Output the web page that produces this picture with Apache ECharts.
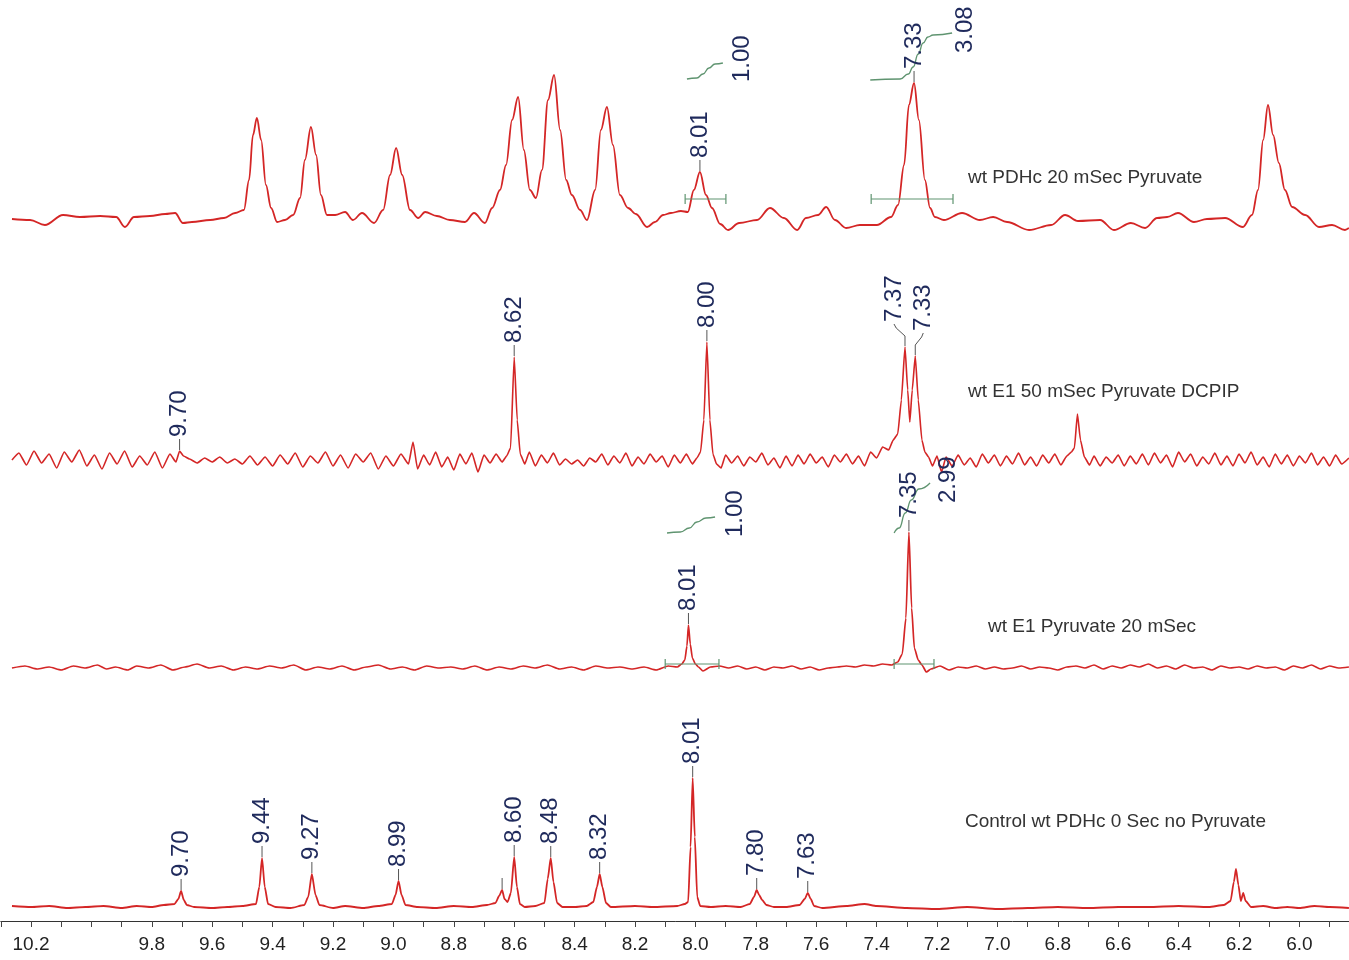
<!DOCTYPE html>
<html><head><meta charset="utf-8">
<script src="https://cdn.jsdelivr.net/npm/echarts@6/dist/echarts.min.js"></script>
<style>html,body{margin:0;padding:0;background:#fff}#c{width:1349px;height:960px}</style>
</head><body><div id="c"></div>
<script>
// ---- tick labels shown on the ppm axis ----
const tickLabels = ['10.2','9.8','9.6','9.4','9.2','9.0','8.8','8.6','8.4','8.2','8.0','7.8','7.6','7.4','7.2','7.0','6.8','6.6','6.4','6.2','6.0'];

// ---- spectrum names ----
const names = ['wt PDHc 20 mSec Pyruvate','wt E1 50 mSec Pyruvate DCPIP','wt E1 Pyruvate 20 mSec','Control wt PDHc 0 Sec no Pyruvate'];

// ---- spectrum 1: wt PDHc 20 mSec Pyruvate  [ppm, intensity] ----
const spec1 = [[10.263,1],[10.203,0],[10.154,-5],[10.094,5],[10.038,3],[9.971,4],[9.918,3],[9.889,-7],[9.859,3],[9.806,4],[9.756,6],[9.723,7],[9.697,-3],[9.667,-2],[9.607,0],[9.561,2],[9.524,7],[9.495,10],[9.478,40],[9.465,85],[9.452,102],[9.438,80],[9.422,35],[9.405,12],[9.385,-2],[9.359,0],[9.332,5],[9.309,22],[9.293,60],[9.273,93],[9.256,65],[9.240,25],[9.220,5],[9.193,5],[9.160,8],[9.134,0],[9.104,7],[9.064,-3],[9.034,10],[9.011,45],[8.991,72],[8.971,45],[8.945,10],[8.918,2],[8.895,8],[8.856,4],[8.813,0],[8.763,-2],[8.733,7],[8.697,-3],[8.673,12],[8.647,30],[8.627,55],[8.607,100],[8.587,123],[8.568,70],[8.548,30],[8.528,22],[8.508,50],[8.488,120],[8.468,145],[8.448,90],[8.428,40],[8.409,25],[8.382,10],[8.359,0],[8.332,30],[8.313,90],[8.293,113],[8.273,75],[8.250,25],[8.223,12],[8.197,6],[8.160,-7],[8.134,-2],[8.107,5],[8.081,7],[8.048,9],[8.025,8],[8.005,30],[7.985,48],[7.965,25],[7.945,12],[7.918,-4],[7.892,-10],[7.855,-3],[7.796,0],[7.753,12],[7.707,2],[7.663,-10],[7.634,2],[7.594,5],[7.567,13],[7.538,0],[7.501,-8],[7.455,-5],[7.399,-5],[7.352,3],[7.329,15],[7.309,55],[7.293,115],[7.276,137],[7.260,100],[7.240,40],[7.223,12],[7.207,3],[7.177,0],[7.117,7],[7.058,0],[7.014,3],[6.968,-2],[6.895,-10],[6.822,-5],[6.776,5],[6.733,-1],[6.660,0],[6.614,-10],[6.558,-3],[6.511,-8],[6.471,2],[6.438,3],[6.402,7],[6.349,-2],[6.306,1],[6.246,2],[6.187,-7],[6.157,5],[6.137,30],[6.120,80],[6.104,115],[6.087,85],[6.068,57],[6.048,30],[6.024,13],[5.981,5],[5.935,-7],[5.892,-5],[5.849,-10],[5.836,-8]];

// ---- spectrum 2: wt E1 50 mSec Pyruvate DCPIP ----
const spec2 = [[10.263,0],[10.240,7],[10.215,-5],[10.190,9],[10.165,-3],[10.140,6],[10.115,-8],[10.090,8],[10.065,-2],[10.040,10],[10.015,-6],[9.990,5],[9.965,-9],[9.940,7],[9.915,-4],[9.890,9],[9.865,-7],[9.840,4],[9.815,-5],[9.790,8],[9.765,-8],[9.740,6],[9.720,-2],[9.708,9],[9.695,4],[9.675,1],[9.650,-3],[9.625,2],[9.600,-2],[9.575,3],[9.550,-3],[9.525,1],[9.500,-4],[9.475,4],[9.450,-5],[9.425,3],[9.400,-6],[9.375,5],[9.350,-4],[9.325,7],[9.300,-7],[9.275,4],[9.250,-3],[9.225,8],[9.200,-6],[9.175,5],[9.150,-8],[9.125,6],[9.100,-2],[9.075,7],[9.050,-9],[9.025,4],[9.000,-6],[8.975,6],[8.950,-4],[8.935,18],[8.920,-9],[8.900,5],[8.880,-5],[8.860,8],[8.840,-7],[8.820,3],[8.800,-10],[8.780,6],[8.760,-4],[8.740,7],[8.720,-12],[8.700,5],[8.680,-3],[8.660,6],[8.640,-2],[8.625,4],[8.612,12],[8.600,103],[8.590,40],[8.580,6],[8.565,-4],[8.550,8],[8.530,-6],[8.510,5],[8.490,-3],[8.470,7],[8.450,-5],[8.430,1],[8.410,-4],[8.390,0],[8.370,-6],[8.350,2],[8.330,-2],[8.310,6],[8.290,-5],[8.270,4],[8.250,-3],[8.230,7],[8.210,-6],[8.190,3],[8.170,-4],[8.150,6],[8.130,-2],[8.110,4],[8.090,-7],[8.070,5],[8.050,-3],[8.030,6],[8.010,-4],[7.995,2],[7.983,8],[7.972,40],[7.962,118],[7.952,40],[7.942,6],[7.930,-4],[7.915,-8],[7.900,5],[7.880,-3],[7.860,4],[7.840,-6],[7.820,3],[7.800,-2],[7.780,7],[7.760,-5],[7.740,2],[7.720,-8],[7.700,4],[7.680,-6],[7.660,5],[7.640,-4],[7.620,6],[7.600,-3],[7.580,3],[7.560,-7],[7.540,5],[7.520,-2],[7.500,6],[7.480,-4],[7.460,4],[7.440,-6],[7.420,8],[7.400,2],[7.380,13],[7.360,10],[7.345,20],[7.330,26],[7.318,60],[7.306,113],[7.297,70],[7.290,38],[7.282,70],[7.272,104],[7.262,60],[7.250,20],[7.240,8],[7.228,3],[7.215,-6],[7.200,4],[7.185,-12],[7.170,3],[7.150,-6],[7.130,5],[7.110,-5],[7.090,2],[7.070,-7],[7.050,6],[7.030,-3],[7.010,5],[6.990,-6],[6.970,4],[6.950,-4],[6.930,7],[6.910,-5],[6.890,3],[6.870,-6],[6.850,5],[6.830,-3],[6.810,6],[6.790,-5],[6.770,4],[6.755,8],[6.745,12],[6.735,46],[6.725,20],[6.712,3],[6.695,-5],[6.680,4],[6.660,-6],[6.640,3],[6.620,-3],[6.600,5],[6.580,-6],[6.560,4],[6.540,-4],[6.520,6],[6.500,-5],[6.480,7],[6.460,-3],[6.440,5],[6.420,-7],[6.400,8],[6.380,-2],[6.360,6],[6.340,-6],[6.320,3],[6.300,-4],[6.280,7],[6.260,-5],[6.240,4],[6.220,-6],[6.200,6],[6.180,-3],[6.160,8],[6.140,-5],[6.120,3],[6.100,-7],[6.080,6],[6.060,-4],[6.040,5],[6.020,-6],[6.000,4],[5.980,-3],[5.960,7],[5.940,-5],[5.920,3],[5.900,-6],[5.880,5],[5.860,-4],[5.836,2]];

// ---- spectrum 3: wt E1 Pyruvate 20 mSec ----
const spec3 = [[10.263,0],[10.22,2],[10.18,-1],[10.14,1],[10.10,-2],[10.06,2],[10.02,0],[9.98,3],[9.95,-1],[9.92,1],[9.88,-2],[9.85,2],[9.81,0],[9.77,3],[9.73,-2],[9.69,1],[9.65,4],[9.61,0],[9.57,2],[9.53,-2],[9.49,1],[9.45,-1],[9.41,2],[9.37,0],[9.33,3],[9.29,-2],[9.25,1],[9.21,-1],[9.17,2],[9.13,-2],[9.09,1],[9.05,3],[9.01,-1],[8.97,1],[8.93,-2],[8.89,2],[8.85,0],[8.81,1],[8.77,-1],[8.73,2],[8.69,-2],[8.65,1],[8.61,-1],[8.57,2],[8.53,0],[8.49,3],[8.45,-1],[8.41,1],[8.37,-2],[8.33,2],[8.29,0],[8.25,1],[8.21,-1],[8.17,1],[8.13,-2],[8.09,2],[8.06,1],[8.045,4],[8.035,8],[8.028,22],[8.023,43],[8.017,24],[8.010,10],[8.000,4],[7.990,1],[7.975,-3],[7.95,1],[7.92,2],[7.89,0],[7.86,2],[7.83,-1],[7.80,1],[7.77,-2],[7.74,1],[7.71,0],[7.68,2],[7.65,-1],[7.62,1],[7.59,-2],[7.56,0],[7.53,1],[7.50,2],[7.47,1],[7.44,3],[7.41,2],[7.38,4],[7.35,3],[7.33,6],[7.315,14],[7.303,50],[7.293,136],[7.284,60],[7.275,20],[7.262,8],[7.250,3],[7.235,-4],[7.22,-1],[7.19,2],[7.16,-2],[7.13,1],[7.10,0],[7.07,2],[7.04,-1],[7.01,1],[6.98,-1],[6.95,0],[6.92,2],[6.89,-1],[6.86,1],[6.83,0],[6.80,-2],[6.77,1],[6.74,2],[6.71,0],[6.68,3],[6.65,-1],[6.62,2],[6.59,0],[6.56,3],[6.53,1],[6.50,4],[6.47,0],[6.44,2],[6.41,-1],[6.38,3],[6.35,0],[6.32,1],[6.29,-2],[6.26,2],[6.23,0],[6.20,1],[6.17,-1],[6.14,2],[6.11,0],[6.08,1],[6.05,-2],[6.02,2],[5.99,0],[5.96,3],[5.93,-1],[5.90,2],[5.87,0],[5.836,1]];

// ---- spectrum 4: Control wt PDHc 0 Sec no Pyruvate ----
const spec4 = [[10.263,1],[10.20,0],[10.14,1],[10.08,-1],[10.02,0],[9.96,1],[9.90,-1],[9.85,1],[9.80,0],[9.76,2],[9.725,3],[9.712,8],[9.703,16],[9.694,7],[9.684,2],[9.66,0],[9.60,-1],[9.55,0],[9.50,1],[9.455,3],[9.444,20],[9.435,49],[9.426,20],[9.415,3],[9.39,0],[9.34,-1],[9.295,2],[9.282,10],[9.270,33],[9.258,12],[9.245,2],[9.20,-1],[9.16,1],[9.10,-1],[9.05,1],[9.005,3],[8.993,12],[8.983,26],[8.973,12],[8.96,2],[8.92,0],[8.86,-1],[8.80,1],[8.74,0],[8.69,2],[8.662,4],[8.650,11],[8.640,17],[8.632,8],[8.622,5],[8.611,14],[8.600,50],[8.591,20],[8.581,3],[8.565,0],[8.53,1],[8.50,4],[8.489,28],[8.479,49],[8.470,25],[8.458,4],[8.44,0],[8.40,0],[8.36,1],[8.338,5],[8.326,20],[8.317,33],[8.308,20],[8.296,4],[8.28,0],[8.20,1],[8.14,0],[8.06,1],[8.035,3],[8.024,5],[8.016,60],[8.009,129],[8.002,70],[7.994,10],[7.984,1],[7.95,0],[7.90,1],[7.85,0],[7.82,3],[7.806,10],[7.797,17],[7.789,12],[7.779,7],[7.765,2],[7.74,0],[7.70,0],[7.655,2],[7.638,8],[7.628,14],[7.618,8],[7.607,1],[7.58,-1],[7.50,1],[7.44,3],[7.40,1],[7.30,-1],[7.20,-2],[7.10,0],[7.00,-2],[6.90,-1],[6.80,0],[6.70,-1],[6.60,0],[6.50,0],[6.40,1],[6.30,0],[6.25,2],[6.228,6],[6.217,25],[6.210,38],[6.202,22],[6.194,6],[6.186,14],[6.178,6],[6.16,0],[6.12,1],[6.08,-1],[6.04,0],[6.00,-1],[5.95,1],[5.90,0],[5.836,-1]];

// ---- picked peaks [ppm, height, label] ----
const peaks1 = [[7.985,48,'8.01'],[7.276,137,'7.33']];
const peaks2 = [[9.708,9,'9.70'],[8.600,103,'8.62'],[7.962,118,'8.00'],[7.306,113,'7.37'],[7.272,104,'7.33']];
const peaks3 = [[8.023,43,'8.01'],[7.293,136,'7.35']];
const peaks4 = [[9.703,16,'9.70'],[9.435,49,'9.44'],[9.270,33,'9.27'],[8.983,26,'8.99'],[8.640,17,''],[8.600,50,'8.60'],[8.479,49,'8.48'],[8.317,33,'8.32'],[8.009,129,'8.01'],[7.797,17,'7.80'],[7.628,14,'7.63']];

// ---- integrals: curves [ppm, level], ranges [from, to, level], values [ppm, level, text] ----
const integ1a = [[8.028,141],[7.995,142],[7.975,146],[7.955,152],[7.935,156],[7.909,157]];
const integ1b = [[7.421,140],[7.322,141],[7.295,146],[7.279,153],[7.262,166],[7.246,177],[7.230,183],[7.213,185],[7.150,187]];
const integ3a = [[8.094,135],[8.050,136],[8.020,140],[7.995,146],[7.965,150],[7.935,151]];
const integ3b = [[7.342,135],[7.325,140],[7.305,155],[7.285,168],[7.260,179],[7.223,185]];
const ranges1 = [[8.034,7.899,21],[7.418,7.147,21]];
const ranges3 = [[8.100,7.922,4],[7.342,7.210,4]];
const integVals1 = [[7.846,138,'1.00'],[7.107,167,'3.08']];
const integVals3 = [[7.866,131,'1.00'],[7.163,165,'2.99']];

// ---------------- styling / layout ----------------
const RED = '#d42626', GREEN = '#5f9470', NAVY = '#1f2a5c';
const LFONT = '24px "Liberation Sans", Arial, sans-serif';
const NFONT = '19px "Liberation Sans", Arial, sans-serif';
const shift2 = {'7.37': -11, '7.33': 8};

const gridDefs = [
  {top: 0, height: 240, ymin: -20, ymax: 220},
  {top: 240, height: 240, ymin: -20, ymax: 220},
  {top: 440, height: 250, ymin: -22, ymax: 228},
  {top: 690, height: 231, ymin: -14, ymax: 217}
];

const grid = gridDefs.map(g => ({left: 0.8, width: 1359, top: g.top, height: g.height, containLabel: false, outerBoundsMode: 'none'}));
const xAxis = gridDefs.map((g, i) => ({
  type: 'value', gridIndex: i, inverse: true, min: 5.8, max: 10.3, interval: 0.1,
  show: i === 3,
  axisLine: {show: true, onZero: false, lineStyle: {color: '#333', width: 1}},
  axisTick: {show: true, length: 6, inside: false, lineStyle: {color: '#444'}},
  splitLine: {show: false},
  axisLabel: {
    margin: 14, color: '#222', fontSize: 19, fontFamily: '"Liberation Sans", Arial, sans-serif',
    showMinLabel: true, showMaxLabel: true, hideOverlap: false,
    formatter: v => { const s = (Math.round(v * 10) / 10).toFixed(1); return tickLabels.includes(s) ? s : ''; }
  }
}));
const yAxis = gridDefs.map((g, i) => ({type: 'value', gridIndex: i, min: g.ymin, max: g.ymax, show: false}));

function lineSeries(data, gi, color, width, smooth) {
  return {type: 'line', xAxisIndex: gi, yAxisIndex: gi, data: data, showSymbol: false, symbol: 'none',
    smooth: smooth, smoothMonotone: 'x', lineStyle: {color: color, width: width}, silent: true, z: 3, clip: false};
}

function peakSeries(peaks, gi, shifts) {
  return {
    type: 'custom', xAxisIndex: gi, yAxisIndex: gi, clip: false, silent: true, z: 6,
    data: peaks.map(p => [p[0], p[1]]),
    renderItem: function (params, api) {
      const pk = peaks[params.dataIndex];
      const pt = api.coord([pk[0], pk[1]]);
      const x = pt[0], y = pt[1];
      const dx = (shifts && shifts[pk[2]]) || 0;
      let pts, ty;
      if (dx) { pts = [[x, y - 1], [x, y - 11], [x + dx * 0.8, y - 19], [x + dx, y - 23]]; ty = y - 25; }
      else { pts = [[x, y - 1], [x, y - 12]]; ty = y - 14; }
      const ch = [{type: 'polyline', shape: {points: pts}, style: {stroke: '#555', lineWidth: 1, fill: null}}];
      if (pk[2]) ch.push({type: 'text', x: x + dx, y: ty, rotation: Math.PI / 2,
        style: {text: pk[2], fill: NAVY, font: LFONT, align: 'left', verticalAlign: 'middle', textAlign: 'left', textVerticalAlign: 'middle'}});
      return {type: 'group', children: ch};
    }
  };
}

function integValSeries(vals, gi) {
  return {
    type: 'custom', xAxisIndex: gi, yAxisIndex: gi, clip: false, silent: true, z: 6,
    data: vals.map(v => [v[0], v[1]]),
    renderItem: function (params, api) {
      const v = vals[params.dataIndex];
      const pt = api.coord([v[0], v[1]]);
      return {type: 'text', x: pt[0], y: pt[1], rotation: Math.PI / 2,
        style: {text: v[2], fill: NAVY, font: LFONT, align: 'left', verticalAlign: 'middle', textAlign: 'left', textVerticalAlign: 'middle'}};
    }
  };
}

function rangeSeries(ranges, gi) {
  return {
    type: 'custom', xAxisIndex: gi, yAxisIndex: gi, clip: false, silent: true, z: 4,
    data: ranges.map(r => [r[0], r[1], r[2]]),
    renderItem: function (params, api) {
      const a = api.coord([api.value(0), api.value(2)]);
      const b = api.coord([api.value(1), api.value(2)]);
      const st = {stroke: GREEN, lineWidth: 1.2};
      return {type: 'group', children: [
        {type: 'line', shape: {x1: a[0], y1: a[1], x2: b[0], y2: b[1]}, style: st},
        {type: 'line', shape: {x1: a[0], y1: a[1] - 5, x2: a[0], y2: a[1] + 5}, style: st},
        {type: 'line', shape: {x1: b[0], y1: b[1] - 5, x2: b[0], y2: b[1] + 5}, style: st}
      ]};
    }
  };
}

const series = [
  lineSeries(spec1, 0, RED, 1.8, 0.35),
  lineSeries(spec2, 1, RED, 1.6, 0.15),
  lineSeries(spec3, 2, RED, 1.7, 0.2),
  lineSeries(spec4, 3, RED, 1.8, 0.2),
  lineSeries(integ1a, 0, GREEN, 1.3, 0.5),
  lineSeries(integ1b, 0, GREEN, 1.3, 0.5),
  lineSeries(integ3a, 2, GREEN, 1.3, 0.5),
  lineSeries(integ3b, 2, GREEN, 1.3, 0.5),
  rangeSeries(ranges1, 0),
  rangeSeries(ranges3, 2),
  peakSeries(peaks1, 0),
  peakSeries(peaks2, 1, shift2),
  peakSeries(peaks3, 2),
  peakSeries(peaks4, 3),
  integValSeries(integVals1, 0),
  integValSeries(integVals3, 2)
];

const namePos = [[968, 178], [968, 392], [988, 627], [965, 822]];
const graphic = names.map((n, i) => ({
  type: 'text', x: namePos[i][0], y: namePos[i][1], silent: true, z: 10,
  style: {text: n, fill: '#333', font: NFONT, align: 'left', verticalAlign: 'middle', textAlign: 'left', textVerticalAlign: 'middle'}
}));

const chart = echarts.init(document.getElementById('c'), null, {renderer: 'canvas'});
chart.setOption({animation: false, backgroundColor: '#fff', grid, xAxis, yAxis, series, graphic});
</script>
</body></html>
